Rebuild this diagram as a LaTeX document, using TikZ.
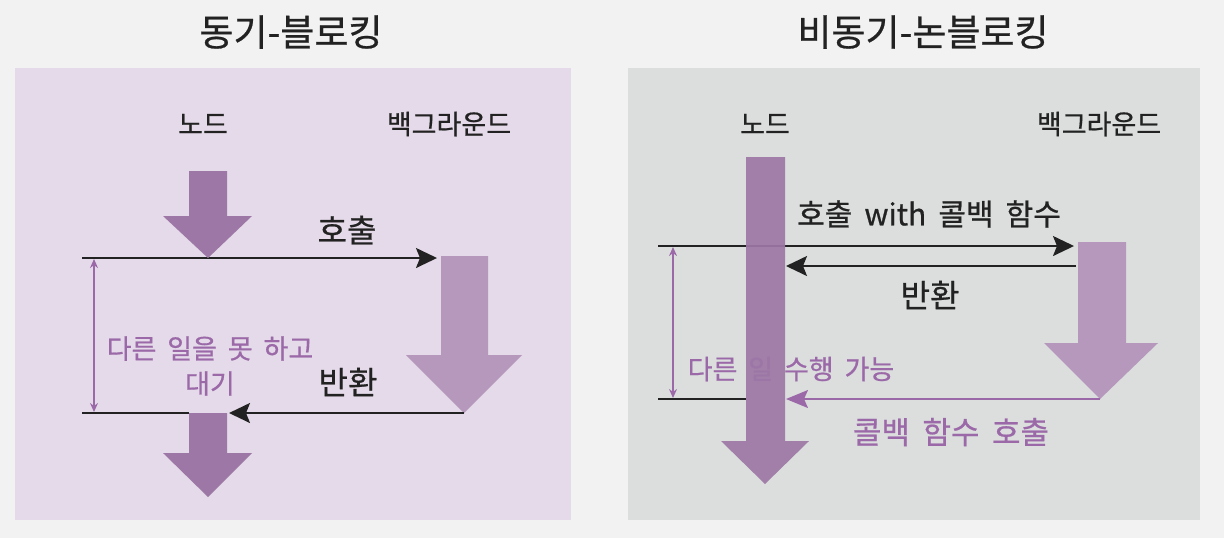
\documentclass[tikz,border=0pt]{standalone}
\usepackage{fontspec}
\setmainfont{Noto Sans CJK KR}[WordSpace=1.8,FakeBold=0.7]
\usetikzlibrary{arrows.meta,calc,positioning}
\definecolor{pagegray}{RGB}{242,242,242}
\definecolor{syncfill}{RGB}{229,218,233}
\definecolor{asyncfill}{RGB}{220,222,222}
\definecolor{nodepurple}{RGB}{157,120,166}
\definecolor{backpurple}{RGB}{181,152,188}
\definecolor{notepurple}{RGB}{155,105,168}
\definecolor{inkdark}{RGB}{34,34,34}

\begin{document}
\begin{tikzpicture}[x=0.5pt,y=-0.5pt,>=Stealth,
  every node/.style={inner sep=0pt,text=inkdark,
   font=\fontsize{13.5}{16}\selectfont},
  titletext/.style={font=\fontsize{18.5}{21}\selectfont},
  msgtext/.style={font=\fontsize{16}{19}\selectfont},
  notetext/.style={text=notepurple,font=\fontsize{13.5}{17.5}\selectfont},
  callline/.style={line width=1pt,inkdark,
   -{Stealth[length=10.5pt,width=10pt,inset=2pt]}},
  plainline/.style={line width=1pt,inkdark},
  spanline/.style={line width=0.7pt,notepurple,
   {Stealth[length=4.5pt,width=4pt]}-{Stealth[length=4.5pt,width=4pt]}},
  cbline/.style={line width=0.8pt,notepurple,
   -{Stealth[length=11pt,width=9pt,inset=2pt]}}]
 \useasboundingbox (0,0) rectangle (1224,538);
 \fill[pagegray] (0,0) rectangle (1224,538);
 \fill[syncfill] (15,68) rectangle (571,520);
 \fill[asyncfill] (628,68) rectangle (1200,520);

 % sync - blocking
 \node[titletext] (stitle) at (291,32) {동기-블로킹};
 \node (snode) at (203,124) {노드};
 \node (sback) at (449,124) {백그라운드};
 \coordinate (scallA) at (82,258);
 \coordinate (scallB) at (437,258);
 \coordinate (sretA) at (464,413);
 \coordinate (sretB) at (229,413);
 \coordinate (sretC) at (189,413);
 \coordinate (sretD) at (82,413);
 \draw[callline] (scallA) -- (scallB);
 \fill[nodepurple] (189,171) -- (227,171) -- (227,216) -- (252,216)
  -- (208,258) -- (163,216) -- (189,216) -- cycle;
 \node[msgtext] (scall) at (347,230) {호출};
 \fill[backpurple] (441,256) -- (488,256) -- (488,355) -- (522,355)
  -- (sretA) -- (406,355) -- (441,355) -- cycle;
 \draw[callline] (sretA) -- (sretB);
 \draw[plainline] (sretC) -- (sretD);
 \node[msgtext] (sret) at (348,382) {반환};
 \fill[nodepurple] (189,413) -- (227,413) -- (227,453) -- (252,453)
  -- (208,497) -- (163,453) -- (189,453) -- cycle;
 \draw[spanline] ($(scallA)+(12,1)$) -- ($(sretD)+(12,-1)$);
 \node[notetext,align=center] (swait) at (210,366) {다른 일을 못 하고\\대기};

 % async - non-blocking
 \node[titletext] (atitle) at (923,32) {비동기-논블로킹};
 \node (anode) at (765,124) {노드};
 \node (aback) at (1099,124) {백그라운드};
 \coordinate (acallA) at (658,246);
 \coordinate (acallB) at (1074,246);
 \coordinate (aretA) at (1076,266);
 \coordinate (aretB) at (786,266);
 \coordinate (aendA) at (658,399);
 \coordinate (aendB) at (746,399);
 \coordinate (acbA) at (1100,399);
 \coordinate (acbB) at (786,399);
 \draw[callline] (acallA) -- (acallB);
 \draw[plainline] (aendA) -- (aendB);
 \node[msgtext,font=\fontsize{15}{18}\selectfont] (acall) at (929,214)
  {호출 with 콜백 함수};
 \node[notetext] (afree) at (791,369) {다른 일 수행 가능};
 \fill[nodepurple,opacity=0.93] (746,157) -- (785,157) -- (785,441)
  -- (809,441) -- (765,484) -- (721,441) -- (746,441) -- cycle;
 \fill[backpurple] (1078,242) -- (1126,242) -- (1126,343) -- (1158,343)
  -- (acbA) -- (1044,343) -- (1078,343) -- cycle;
 \draw[callline] (aretA) -- (aretB);
 \node[msgtext] (aret) at (930,295) {반환};
 \draw[cbline] (acbA) -- (acbB);
 \draw[spanline] ($(acallA)+(15,1)$) -- ($(aendA)+(15,-1)$);
 \node[notetext,font=\fontsize{15.5}{18}\selectfont] (acb) at (951,432)
  {콜백 함수 호출};
\end{tikzpicture}
\end{document}
